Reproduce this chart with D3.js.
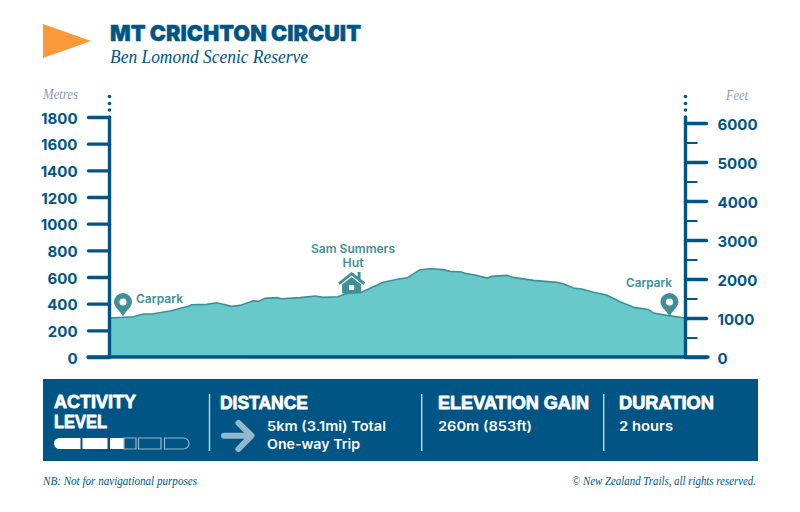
<!DOCTYPE html>
<html>
<head>
<meta charset="utf-8">
<script src="https://cdn.jsdelivr.net/npm/d3@7"></script>
<style>
html,body{margin:0;padding:0;background:#fff;}
svg{display:block;}
</style>
</head>
<body>
<svg id="c" width="800" height="512"></svg>
<script>
// ---- data ----
const distanceKm = [0,.203,.29,.363,.522,.681,.71,.841,.928,1.058,1.13,1.246,1.29,1.348,1.45,1.493,1.652,1.783,1.855,1.985,2.058,2.189,2.29,2.377,2.522,2.58,2.696,2.783,2.898,2.957,3.058,3.087,3.174,3.281,3.319,3.45,3.507,3.681,3.884,3.942,4.029,4.102,4.203,4.319,4.435,4.565,4.681,4.725,4.841,5];
const elevationM = [292,302,322,322,345,380,392,395,407,380,387,422,417,440,445,437,445,457,447,452,477,485,527,560,587,592,655,662,655,642,637,627,615,592,605,612,597,575,560,550,517,510,485,465,415,370,357,330,312,292];
const metreTicks = [0,200,400,600,800,1000,1200,1400,1600,1800];
const feetMajorTicks = [0,1000,2000,3000,4000,5000,6000];
const feetMinorTicks = [500,1500,2500,3500,4500,5500];
const title = "MT CRICHTON CIRCUIT";
const subtitle = "Ben Lomond Scenic Reserve";

const NAVY="#005585", TEAL="#69C8C9", DTEAL="#3F8F98", ORANGE="#FB9939", ARROW="#93B8CE", MUTED="#8C9BB5";
const SANS="Inter, 'Noto Sans', sans-serif", SERIF="'Liberation Serif', serif", HEAD="'Liberation Sans', sans-serif";

const svg=d3.select("#c");
const x=d3.scaleLinear().domain([0,5]).range([110,685]);
const yM=d3.scaleLinear().domain([0,1800]).range([357,117]);
const yF=d3.scaleLinear().domain([0,6000]).range([357,123]);

function txt(g,s,px,py,o){
  const t=g.append("text").attr("x",px).attr("y",py).text(s)
   .attr("font-family",o.f||SANS).attr("font-size",o.s).attr("font-weight",o.w||400)
   .attr("fill",o.c||NAVY).attr("text-anchor",o.a||"start");
  if(o.i)t.attr("font-style","italic");
  if(o.l)t.attr("textLength",o.l).attr("lengthAdjust","spacingAndGlyphs");
  if(o.sw)t.attr("stroke",o.c||NAVY).attr("stroke-width",o.sw).attr("stroke-linejoin","round");
  return t;
}

// ---- header ----
svg.append("path").attr("d","M43,24L91,41L43,58Z").attr("fill",ORANGE);
txt(svg,title,110,41,{s:22,w:900,l:251,sw:0.4});
txt(svg,subtitle,110,63,{s:19.5,f:SERIF,i:1,l:198});
txt(svg,"Metres",43,99,{s:14.5,f:SERIF,i:1,c:MUTED,l:35});
txt(svg,"Feet",726,100,{s:14.5,f:SERIF,i:1,c:MUTED,l:22});

// ---- area ----
const pts=distanceKm.map((d,i)=>[d,elevationM[i]]);
svg.append("path").datum(pts).attr("fill",TEAL)
  .attr("d",d3.area().x(d=>x(d[0])).y0(yM(0)).y1(d=>yM(d[1])));
svg.append("path").datum(pts).attr("fill","none").attr("stroke",DTEAL).attr("stroke-width",1.6)
  .attr("d",d3.line().x(d=>x(d[0])).y(d=>yM(d[1])));

// ---- axes ----
function styleAxis(g){
  g.select(".domain").remove();
  g.selectAll(".tick line").attr("stroke",NAVY).attr("stroke-width",3.4).attr("stroke-linecap","round");
  g.selectAll(".tick text").attr("fill",NAVY).attr("font-family",SANS).attr("font-size",15).attr("font-weight",700)
    .attr("dy","0.4em");
}
const axL=svg.append("g").attr("transform","translate(109.5,0)")
  .call(d3.axisLeft(yM).tickValues(metreTicks).tickSize(21).tickPadding(11).tickFormat(d3.format("d")));
styleAxis(axL);
const axRMinor=svg.append("g").attr("transform","translate(685.5,0)")
  .call(d3.axisRight(yF).tickValues(feetMinorTicks).tickSize(12).tickFormat(""));
axRMinor.select(".domain").remove();
axRMinor.selectAll(".tick line").attr("stroke",NAVY).attr("stroke-width",2);
const axR=svg.append("g").attr("transform","translate(685.5,0)")
  .call(d3.axisRight(yF).tickValues(feetMajorTicks).tickSize(21).tickPadding(11).tickFormat(d3.format("d")));
styleAxis(axR);

[109.5,685.5].forEach(px=>{
  svg.append("line").attr("x1",px).attr("x2",px).attr("y1",117).attr("y2",357)
    .attr("stroke",NAVY).attr("stroke-width",3.4).attr("stroke-linecap","round");
  [96.5,103.5,110].forEach(py=>svg.append("circle").attr("cx",px).attr("cy",py).attr("r",1.8).attr("fill",NAVY));
});
svg.append("line").attr("x1",88).attr("x2",708).attr("y1",357).attr("y2",357)
  .attr("stroke",NAVY).attr("stroke-width",3.4).attr("stroke-linecap","round");

// ---- annotations ----
function pin(px,tip){
  const g=svg.append("g").attr("transform",`translate(${px},${tip})`);
  g.append("path").attr("fill",DTEAL).attr("fill-rule","evenodd")
   .attr("d","M0,0C-3,-6 -9,-9.5 -9,-14.5A9,9 0 1 1 9,-14.5C9,-9.5 3,-6 0,0Z M3.6,-14.5A3.6,3.6 0 1 0 -3.6,-14.5A3.6,3.6 0 1 0 3.6,-14.5Z");
}
pin(x(0.113),316.5);
pin(x(4.865),316.5);
txt(svg,"Carpark",136,303,{s:12,w:600,c:DTEAL,l:47});
txt(svg,"Carpark",626,287,{s:12,w:600,c:DTEAL,l:46});
txt(svg,"Sam Summers",353,252.5,{s:11.5,w:600,c:DTEAL,a:"middle",l:84});
txt(svg,"Hut",353,266.5,{s:11.5,w:600,c:DTEAL,a:"middle",l:21});
const hut=svg.append("g").attr("transform",`translate(${x(2.101)},272)`);
hut.append("path").attr("fill",DTEAL).attr("d","M0,0L6,4.6L6,0L9,0L9,7L13.5,10.5L12,13L0,3.6L-12,13L-13.5,10.5Z");
hut.append("path").attr("fill",DTEAL).attr("fill-rule","evenodd").attr("d","M-9.5,12.5L0,5L9.5,12.5L9.5,21.5L-9.5,21.5Z M-2.5,13L2.5,13L2.5,18L-2.5,18Z");

// ---- info panel ----
svg.append("rect").attr("x",43).attr("y",379).attr("width",715).attr("height",82).attr("fill",NAVY);
[209.5,421.7,603.7].forEach(px=>svg.append("line").attr("x1",px).attr("x2",px).attr("y1",394).attr("y2",451).attr("stroke","#C9D9E4").attr("stroke-width",1.4));
const W="#fff";
txt(svg,"ACTIVITY",54,407.5,{s:17.8,w:700,f:HEAD,c:W,l:82,sw:0.8});
txt(svg,"LEVEL",54,427.5,{s:17.8,w:700,f:HEAD,c:W,l:53,sw:0.8});
txt(svg,"DISTANCE",220,409,{s:17.8,w:700,f:HEAD,c:W,l:88,sw:0.8});
txt(svg,"ELEVATION GAIN",438,409,{s:17.8,w:700,f:HEAD,c:W,l:151,sw:0.8});
txt(svg,"DURATION",619,409,{s:17.8,w:700,f:HEAD,c:W,l:95,sw:0.8});
txt(svg,"5km (3.1mi) Total",267,431,{s:13.5,w:600,c:W,l:119});
txt(svg,"One-way Trip",267,449,{s:13.5,w:600,c:W,l:93});
txt(svg,"260m (853ft)",438,431,{s:13.5,w:600,c:W,l:94});
txt(svg,"2 hours",619,431,{s:13.5,w:600,c:W,l:54});
svg.append("path").attr("fill","none").attr("stroke",ARROW).attr("stroke-width",6).attr("stroke-linecap","round").attr("stroke-linejoin","round")
  .attr("d","M224,435.7H251M238.5,423L251.5,435.7L238.5,449");

// activity meter
const meter=svg.append("g");
const seg=(a,b,rl,rr)=>{
  const t=438,h=11,r=h/2;
  const L=rl?`M${a+r},${t}A${r},${r} 0 0 0 ${a+r},${t+h}`:`M${a},${t}V${t+h}`;
  const R=rr?`H${b-r}A${r},${r} 0 0 0 ${b-r},${t}`:`H${b}V${t}`;
  return L+R+"Z";
};
meter.append("path").attr("fill",W).attr("d",seg(54,80.5,true,false));
meter.append("path").attr("fill",W).attr("d",seg(82.5,107.5,false,false));
meter.append("path").attr("fill",W).attr("d",seg(110,124,false,false));
meter.append("path").attr("fill","none").attr("stroke",ARROW).attr("stroke-width",1.2).attr("d",seg(124,136,false,false));
meter.append("path").attr("fill","none").attr("stroke",ARROW).attr("stroke-width",1.2).attr("d",seg(138.5,161,false,false));
meter.append("path").attr("fill","none").attr("stroke",ARROW).attr("stroke-width",1.2).attr("d",seg(164.5,189,false,true));

// ---- footer ----
txt(svg,"NB: Not for navigational purposes",43,485,{s:12.5,f:SERIF,i:1,l:154});
txt(svg,"© New Zealand Trails, all rights reserved.",756,485,{s:12.5,f:SERIF,i:1,a:"end",l:184});
</script>
</body>
</html>
